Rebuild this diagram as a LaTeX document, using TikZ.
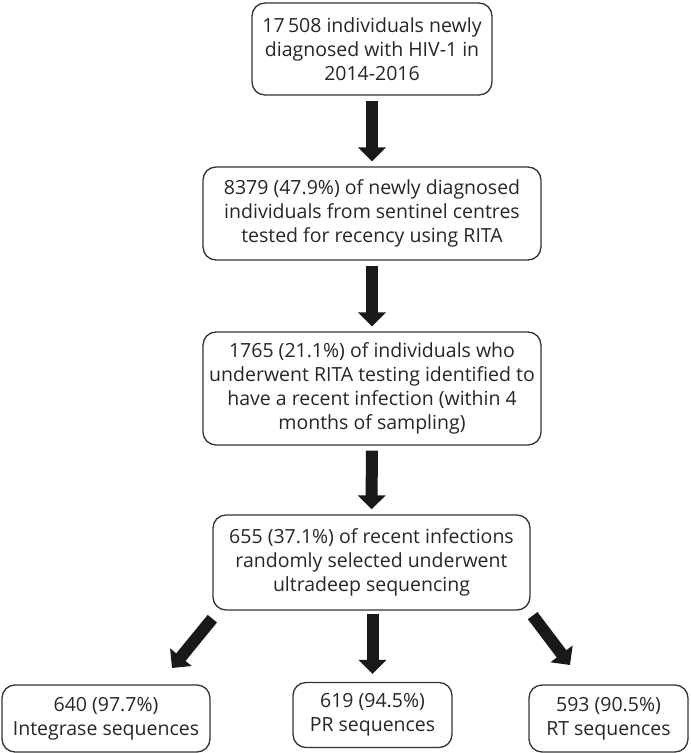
\documentclass[tikz,border=0pt]{standalone}
\usepackage{fontspec}
\setmainfont{Open Sans}
\usetikzlibrary{arrows.meta,calc}
\begin{document}
\begin{tikzpicture}[x=1pt,y=-1pt,
  box/.style={draw=black!80, line width=1.3pt, rounded corners=13pt, align=center,
    inner sep=0pt, text=black!85, font=\fontsize{19.5}{24}\selectfont},
  bigarrow/.style={line width=12pt, draw=black!90,
    -{Triangle[width=27pt,length=14pt]}, shorten <=5pt, shorten >=5pt}]
\useasboundingbox (0,0) rectangle (691,753);
\node[box, minimum width=240pt, minimum height=92pt] (b1) at (372,49)
  {17\,508 individuals newly\\diagnosed with HIV-1 in\\2014-2016};
\node[box, minimum width=338pt, minimum height=93pt] (b2) at (372,213.5)
  {8379 (47.9\%) of newly diagnosed\\individuals from sentinel centres\\tested for recency using RITA};
\node[box, minimum width=338pt, minimum height=113pt] (b3) at (372,388.5)
  {1765 (21.1\%) of individuals who\\underwent RITA testing identified to\\have a recent infection (within 4\\months of sampling)};
\node[box, minimum width=317pt, minimum height=95pt] (b4) at (371.5,562.5)
  {655 (37.1\%) of recent infections\\randomly selected underwent\\ultradeep sequencing};
\node[box, minimum width=208pt, minimum height=67pt] (b5) at (106,718.5)
  {640 (97.7\%)\\Integrase sequences};
\node[box, minimum width=159pt, minimum height=65pt] (b6) at (372.5,715)
  {619 (94.5\%)\\PR sequences};
\node[box, minimum width=159pt, minimum height=67pt] (b7) at (608.5,718.5)
  {593 (90.5\%)\\RT sequences};
\draw[bigarrow] (b1) -- (b2);
\draw[bigarrow] (b2) -- (b3);
\draw[bigarrow] (b3) -- (b4);
\draw[bigarrow, shorten <=3pt, shorten >=8pt] (b4.south -| b6.north) -- (b6.north);
\coordinate (l1) at ($(b4.south west)+(0,8)$);
\coordinate (l2) at (172,668);
\coordinate (r1) at ($(b4.south east)+(2,5)$);
\coordinate (r2) at (570,665);
\draw[bigarrow, shorten <=0pt, shorten >=0pt] (l1) -- (l2);
\draw[bigarrow, shorten <=0pt, shorten >=0pt] (r1) -- (r2);
\end{tikzpicture}
\end{document}
